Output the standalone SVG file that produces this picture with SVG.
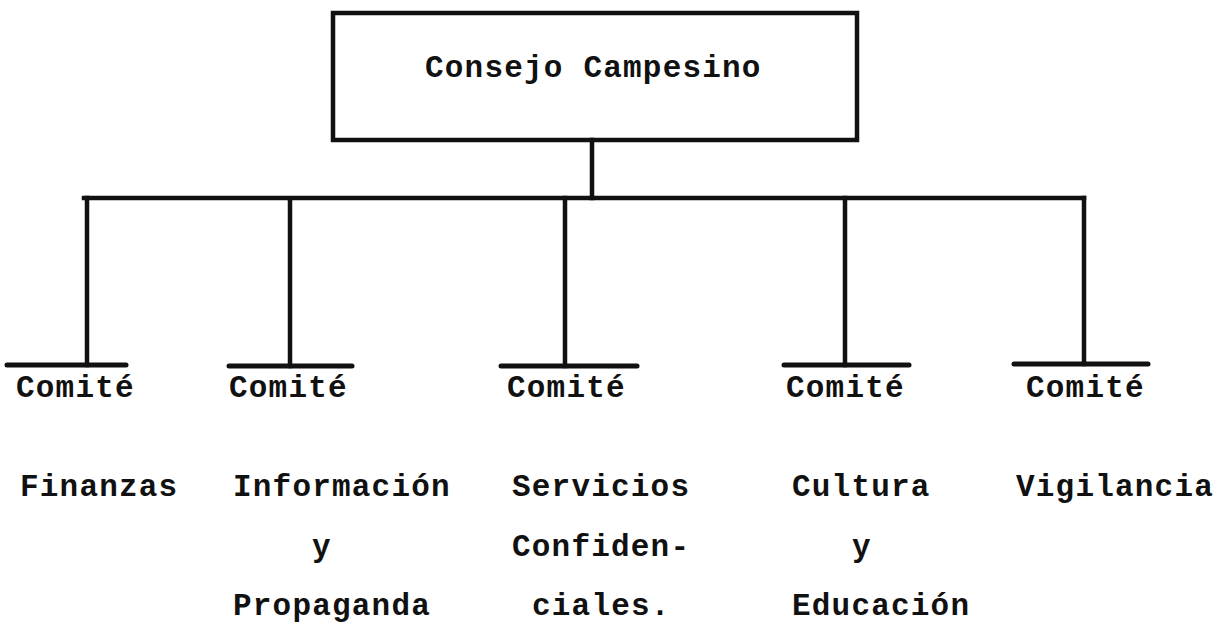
<svg xmlns="http://www.w3.org/2000/svg" width="1226" height="630" viewBox="0 0 1226 630">
<style>
  .t { font-family: "Liberation Mono", "DejaVu Sans Mono", monospace; font-weight: bold; font-size: 31px; letter-spacing: 1.2px; fill: #111; }
  .ln { stroke: #111; stroke-width: 4.5; fill: none; stroke-linecap: square; }
  .bar { stroke: #111; stroke-width: 5; fill: none; stroke-linecap: round; }
  .box { stroke: #111; stroke-width: 4.5; fill: none; }
</style>
<rect width="1226" height="630" fill="#ffffff"/>

<g id="connectors">
  <line class="ln" x1="592" y1="140" x2="592" y2="198"/>
  <line class="ln" x1="84" y1="198" x2="1084" y2="198"/>
  <line class="ln" x1="87" y1="198" x2="87" y2="365"/>
  <line class="ln" x1="290" y1="202" x2="290" y2="366"/>
  <line class="ln" x1="565" y1="198" x2="565" y2="366"/>
  <line class="ln" x1="845" y1="198" x2="845" y2="365"/>
  <line class="ln" x1="1084" y1="198" x2="1084" y2="364"/>
</g>

<g id="consejo">
  <rect class="box" x="333" y="13" width="524" height="127"/>
  <text class="t" x="425" y="77">Consejo Campesino</text>
</g>

<g id="finanzas">
  <line class="bar" x1="7" y1="365" x2="126" y2="365"/>
  <text class="t" x="16" y="397">Comité</text>
  <text class="t" x="20" y="496">Finanzas</text>
</g>

<g id="informacion">
  <line class="bar" x1="229" y1="366" x2="352" y2="366"/>
  <text class="t" x="229" y="397">Comité</text>
  <text class="t" x="233" y="496">Información</text>
  <text class="t" x="312" y="556">y</text>
  <text class="t" x="233" y="615">Propaganda</text>
</g>

<g id="servicios">
  <line class="bar" x1="501" y1="366" x2="637" y2="366"/>
  <text class="t" x="507" y="397">Comité</text>
  <text class="t" x="512" y="496">Servicios</text>
  <text class="t" x="512" y="556">Confiden-</text>
  <text class="t" x="532" y="615">ciales.</text>
</g>

<g id="cultura">
  <line class="bar" x1="784" y1="365" x2="909" y2="365"/>
  <text class="t" x="786" y="397">Comité</text>
  <text class="t" x="792" y="496">Cultura</text>
  <text class="t" x="852" y="556">y</text>
  <text class="t" x="792" y="615">Educación</text>
</g>

<g id="vigilancia">
  <line class="bar" x1="1014" y1="364" x2="1148" y2="364"/>
  <text class="t" x="1026" y="397">Comité</text>
  <text class="t" x="1016" y="496">Vigilancia</text>
</g>
</svg>
